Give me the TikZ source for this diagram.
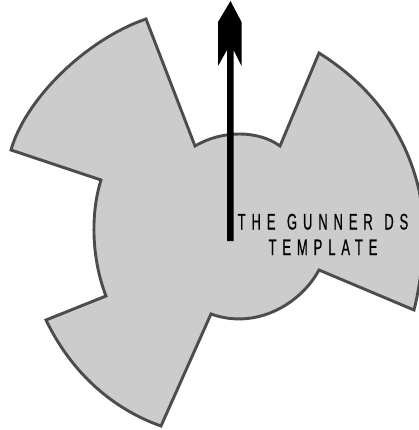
\documentclass[tikz,border=0pt]{standalone}
\usepackage{fontspec}
\newfontfamily\labfont[FakeStretch=0.58,LetterSpace=26,FakeBold=0.6]{Liberation Sans}
\begin{document}
\begin{tikzpicture}[x=1pt,y=-1pt,
  blade/.style={fill=black!20,draw=black!70,line width=2.9pt,line join=miter},
  lab/.style={font=\labfont\fontsize{22.5}{22.5}\selectfont,inner sep=0pt,anchor=base,text=black}]
\useasboundingbox (0,0) rectangle (419,430);
\begin{scope}
\clip (0,0) rectangle (419,430);
\draw[blade] (11,150)
  .. controls (25,100) and (85,40) .. (146,19)
  -- (195,146)
  .. controls (222,130) and (258,130) .. (280,146)
  -- (319,53)
  .. controls (370,85) and (405,130) .. (419,190)
  .. controls (426,225) and (424,270) .. (414,310)
  -- (319,270)
  .. controls (300,305) and (255,330) .. (211,314)
  -- (161,426)
  .. controls (110,408) and (70,370) .. (46,320)
  -- (106,296)
  .. controls (92,260) and (90,215) .. (101,180)
  -- cycle;
\end{scope}
\fill[black] (230.5,1) -- (241.5,22) -- (241.5,66) -- (233.5,50) -- (233.5,241) -- (227,241) -- (227,50) -- (218,66) -- (218,22) -- cycle;
\node[lab] (l1) at (323,229.5) {THE\hspace{2pt} GUNNER\hspace{2pt} DS};
\node[lab] (l2) at (323,255) {TEMPLATE};
\end{tikzpicture}
\end{document}
